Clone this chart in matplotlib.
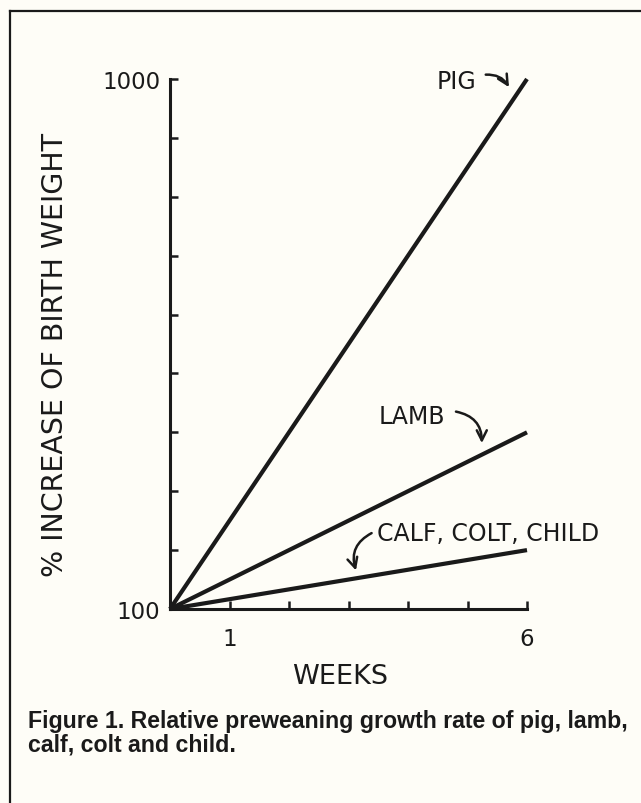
import matplotlib
matplotlib.use("Agg")
import matplotlib.pyplot as plt
from matplotlib.lines import Line2D

# data
weeks = [0, 6]
pig = [100, 1000]
lamb = [100, 400]
calf = [100, 200]

y_ticks = list(range(100, 1001, 100))
y_labels = ["100" if v == 100 else "1000" if v == 1000 else "" for v in y_ticks]
x_ticks = [1, 2, 3, 4, 5, 6]
x_labels = ["1", "", "", "", "", "6"]

bg = "#fefdf7"
ink = "#1a1a1a"

plt.rcParams['font.family'] = ['DejaVu Sans']

fig = plt.figure(figsize=(6.41, 8.04), dpi=100, facecolor=bg)
W, H = 641.0, 804.0

# axes placed to match the printed figure
ax = fig.add_axes([170 / W, 1 - 610 / H, 357 / W, 530 / H])
ax.set_facecolor(bg)

for series in (pig, lamb, calf):
    ax.plot(weeks, series, color=ink, lw=3.0, solid_capstyle='butt', clip_on=False)

ax.set_xlim(0, 6)
ax.set_ylim(100, 1000)
for s in ("top", "right"):
    ax.spines[s].set_visible(False)
for s in ("left", "bottom"):
    ax.spines[s].set_linewidth(2.2)
    ax.spines[s].set_color(ink)

ax.set_yticks(y_ticks)
ax.set_yticklabels(y_labels)
ax.set_xticks(x_ticks)
ax.set_xticklabels(x_labels)
ax.tick_params(axis='y', direction='in', length=6, width=1.8, color=ink,
               labelsize=16.5, pad=7, labelcolor=ink)
ax.tick_params(axis='x', direction='in', length=6, width=1.8, color=ink,
               labelsize=16.5, pad=13, labelcolor=ink)

fig.text(340 / W, 1 - 677 / H, "WEEKS", fontsize=19.5, color=ink,
         ha='center', va='center')
fig.text(55 / W, 1 - 355 / H, "% INCREASE OF BIRTH WEIGHT", rotation=90,
         fontsize=20.5, color=ink, ha='center', va='center')

# curve labels with hand-drawn style arrows
lab_kw = dict(fontsize=17, color=ink, va='center')
arr_kw = dict(arrowstyle='->', color=ink, lw=1.8, mutation_scale=18)

ax.text(4.82, 997, "PIG", ha='center', clip_on=False, **lab_kw)
ax.annotate("", xy=(5.72, 982), xytext=(5.26, 1007), annotation_clip=False,
            arrowprops=dict(connectionstyle="arc3,rad=-0.35", **arr_kw))

ax.text(4.07, 428, "LAMB", ha='center', **lab_kw)
ax.annotate("", xy=(5.24, 377), xytext=(4.76, 436),
            arrowprops=dict(connectionstyle="arc3,rad=-0.45", **arr_kw))

ax.text(3.48, 229, "CALF, COLT, CHILD", ha='left', **lab_kw)
ax.annotate("", xy=(3.14, 161), xytext=(3.43, 231),
            arrowprops=dict(connectionstyle="arc3,rad=0.45", **arr_kw))

# caption
cap_kw = dict(fontsize=16.7, fontweight='bold', color=ink, ha='left',
              va='baseline', family=['Liberation Sans', 'DejaVu Sans'])
fig.text(28 / W, 1 - 728 / H, "Figure 1. Relative preweaning growth rate of pig, lamb,", **cap_kw)
fig.text(28 / W, 1 - 752 / H, "calf, colt and child.", **cap_kw)

# frame of the printed panel (top and left edges only visible)
fig.add_artist(Line2D([10 / W, 1.0], [1 - 12 / H, 1 - 12 / H], color=ink, lw=1.6,
                      transform=fig.transFigure))
fig.add_artist(Line2D([10 / W, 10 / W], [1 - 12 / H, 0.0], color=ink, lw=1.6,
                      transform=fig.transFigure))

fig.savefig("out.png", dpi=100, facecolor=bg)
